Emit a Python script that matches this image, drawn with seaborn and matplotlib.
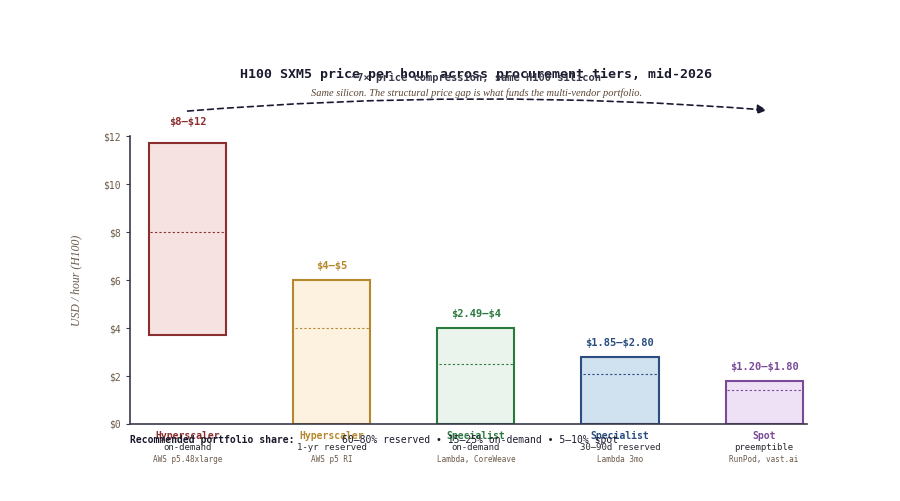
import numpy as np
import pandas as pd
import matplotlib
matplotlib.use("Agg")
import matplotlib.pyplot as plt
import seaborn as sns

# values
price_labels = ["$8–$12", "$4–$5", "$2.49–$4", "$1.85–$2.80", "$1.20–$1.80"]
tier_names = ["Hyperscaler", "Hyperscaler", "Specialist", "Specialist", "Spot"]
tier_kind = ["on-demand", "1-yr reserved", "on-demand", "30–90d reserved", "preemptible"]
tier_example = ["AWS p5.48xlarge", "AWS p5 RI", "Lambda, CoreWeave", "Lambda 3mo", "RunPod, vast.ai"]
bar_low = [3.7, 0.0, 0.0, 0.0, 0.0]
bar_high = [11.7, 6.0, 4.0, 2.8, 1.8]
bar_mid = [8.0, 4.0, 2.5, 2.1, 1.4]
y_ticks = [0, 2, 4, 6, 8, 10, 12]

edge_colors = ["#8a2e2e", "#b5892b", "#2a7a3e", "#2a4e80", "#7a4a98"]
fill_colors = ["#f6e2e1", "#fdf2e0", "#eaf4ec", "#d0e1ef", "#efe1f5"]

df = pd.DataFrame({"label": price_labels,
                   "height": np.array(bar_high) - np.array(bar_low)})

sns.set_style("white")
plt.rcParams["font.family"] = ["DejaVu Sans Mono"]

fig = plt.figure(figsize=(9, 5.01), dpi=100)
ax = fig.add_axes([0.1444, 0.1537, 0.7526, 0.5748])

sns.barplot(data=df, x="label", y="height", hue="label", palette=fill_colors,
            legend=False, width=0.535, ax=ax, saturation=1)

for i, p in enumerate(ax.patches):
    p.set_y(bar_low[i])
    p.set_edgecolor(edge_colors[i])
    p.set_linewidth(1.5)
    x0 = p.get_x()
    w = p.get_width()
    ax.plot([x0 + 0.01, x0 + w - 0.01], [bar_mid[i], bar_mid[i]], color=edge_colors[i],
            lw=0.8, ls=(0, (2, 2)))
    off = 10 if i > 0 else 15.5
    ax.annotate(price_labels[i].replace("$", r"\$"), (i, bar_high[i]), xytext=(0, off),
                textcoords="offset points", ha="center", va="center", fontsize=7.5,
                fontweight="bold", color=edge_colors[i])
    ax.text(i, -0.5, tier_names[i], ha="center", va="center", fontsize=7,
            fontweight="bold", color=edge_colors[i])
    ax.text(i, -1.0, tier_kind[i], ha="center", va="center", fontsize=6.5, color="#2a2a33")
    ax.text(i, -1.5, tier_example[i], ha="center", va="center", fontsize=5.5, color="#6b5a4a")

ax.set_xlim(-0.4, 4.3)
ax.set_ylim(0, 12)
ax.set_yticks(y_ticks)
ax.set_yticklabels([f"\\${t}" for t in y_ticks], fontsize=7, color="#6b5a4a")
ax.set_xticks([])
ax.set_xlabel("")
ax.set_ylabel("USD / hour (H100)", family="Liberation Serif", style="italic",
              fontsize=8.5, color="#6b5a4a", labelpad=15)
ax.tick_params(axis="y", length=3, width=0.8, color="#3a3a4a", left=True)
for s in ["top", "right"]:
    ax.spines[s].set_visible(False)
for s in ["left", "bottom"]:
    ax.spines[s].set_color("#3a3a4a")
    ax.spines[s].set_linewidth(1.2)

# compression arrow
ax.annotate("", xy=(4.02, 13.08), xytext=(0, 13.04), annotation_clip=False,
            arrowprops=dict(arrowstyle="-|>", linestyle=(0, (3.5, 2.5)), lw=1.2,
                            color="#1a1a33", mutation_scale=14,
                            connectionstyle="arc3,rad=-0.04", shrinkA=0, shrinkB=0))

fig.text(0.529, 0.852, "H100 SXM5 price per hour across procurement tiers, mid-2026",
         ha="center", va="center", fontsize=9.5, fontweight="bold", color="#1a1a2e")
fig.text(0.529, 0.844, "~7× price compression, same H100 silicon",
         ha="center", va="center", fontsize=7.5, fontweight="bold", color="#3a3a4a")
fig.text(0.529, 0.814, "Same silicon. The structural price gap is what funds the multi-vendor portfolio.",
         ha="center", va="center", fontsize=7.5, family="Liberation Serif", style="italic",
         color="#5a4535")

fig.text(0.1444, 0.122, "Recommended portfolio share:", ha="left", va="center",
         fontsize=7, fontweight="bold", color="#1a1a2e")
fig.text(0.38, 0.122, "60–80% reserved • 15–25% on-demand • 5–10% spot", ha="left",
         va="center", fontsize=7, color="#1a1a2e")

fig.savefig("out.png", dpi=100)
